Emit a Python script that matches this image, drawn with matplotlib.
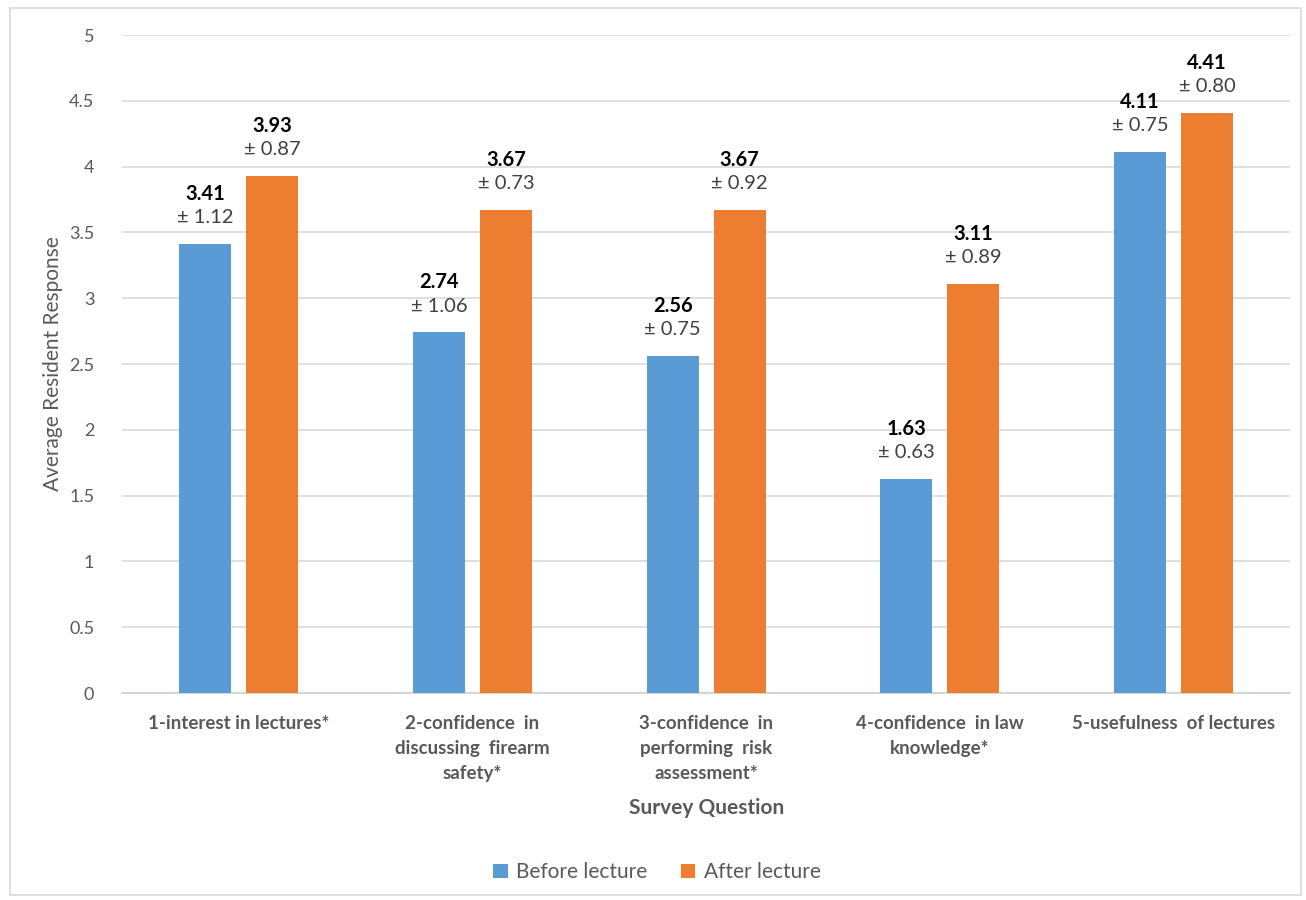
import matplotlib
matplotlib.use("Agg")
import matplotlib.pyplot as plt
import numpy as np
from matplotlib.patches import Rectangle

plt.rcParams['font.family'] = ['Lato', 'DejaVu Sans']

categories = [
    "1-interest in lectures*",
    "2-confidence  in\ndiscussing  firearm\nsafety*",
    "3-confidence  in\nperforming  risk\nassessment*",
    "4-confidence  in law\nknowledge*",
    "5-usefulness  of lectures",
]
before_mean = [3.41, 2.74, 2.56, 1.63, 4.11]
before_sd = [1.12, 1.06, 0.75, 0.63, 0.75]
after_mean = [3.93, 3.67, 3.67, 3.11, 4.41]
after_sd = [0.87, 0.73, 0.92, 0.89, 0.80]
series_names = ["Before lecture", "After lecture"]

BLUE = "#5B9BD5"
ORANGE = "#ED7D31"
GRAY = "#595959"

fig = plt.figure(figsize=(13.06, 9.0), dpi=100)
ax = fig.add_axes([0.0934, 0.230, 0.8946, 0.731])

x = np.arange(len(categories))
width = 0.223
offset = 0.143

bars_b = ax.bar(x - offset, before_mean, width, color=BLUE, label=series_names[0], zorder=3)
bars_a = ax.bar(x + offset, after_mean, width, color=ORANGE, label=series_names[1], zorder=3)

for bars, means, sds in [(bars_b, before_mean, before_sd), (bars_a, after_mean, after_sd)]:
    for b, m, s in zip(bars, means, sds):
        cx = b.get_x() + b.get_width() / 2
        ax.annotate(f"{m:.2f}", xy=(cx, m), xytext=(0, 36), textcoords="offset points",
                    ha="center", va="center", fontsize=14.5, fontweight="bold", color="black")
        ax.annotate(f"\u00b1 {s:.2f}", xy=(cx, m), xytext=(0, 19), textcoords="offset points",
                    ha="center", va="center", fontsize=14.5, color="#404040")

ax.set_xlim(-0.5, len(categories) - 0.5)
ax.set_ylim(0, 5)
ax.set_yticks(np.arange(0, 5.01, 0.5))
ax.set_yticklabels(["0", "0.5", "1", "1.5", "2", "2.5", "3", "3.5", "4", "4.5", "5"])
ax.set_xticks(x)
ax.set_xticklabels(categories, fontsize=13.5, fontweight="bold", color=GRAY, linespacing=1.55)
ax.tick_params(axis="x", length=0, pad=16)
ax.tick_params(axis="y", length=0, pad=20, labelsize=13, labelcolor=GRAY)

ax.grid(axis="y", color="#D9D9D9", linewidth=1.2, zorder=0)
for side in ["top", "right", "left"]:
    ax.spines[side].set_visible(False)
ax.spines["bottom"].set_color("#D0D0D0")
ax.spines["bottom"].set_linewidth(1.2)

ax.set_ylabel("Average Resident Response", fontsize=15, color=GRAY, labelpad=4)
ax.set_xlabel("Survey Question", fontsize=15, fontweight="bold", color=GRAY, labelpad=12)

leg = fig.legend(handles=[bars_b, bars_a], labels=series_names, loc="center",
                 bbox_to_anchor=(0.503, 0.031), ncol=2, frameon=False, fontsize=15,
                 handlelength=0.7, handleheight=0.7, columnspacing=1.6, handletextpad=0.4)
for t in leg.get_texts():
    t.set_color(GRAY)

fig.patches.append(Rectangle((0.008, 0.006), 0.988, 0.985, transform=fig.transFigure,
                             fill=False, edgecolor="#D9D9D9", linewidth=1.2))

fig.savefig("out.png", dpi=100)
